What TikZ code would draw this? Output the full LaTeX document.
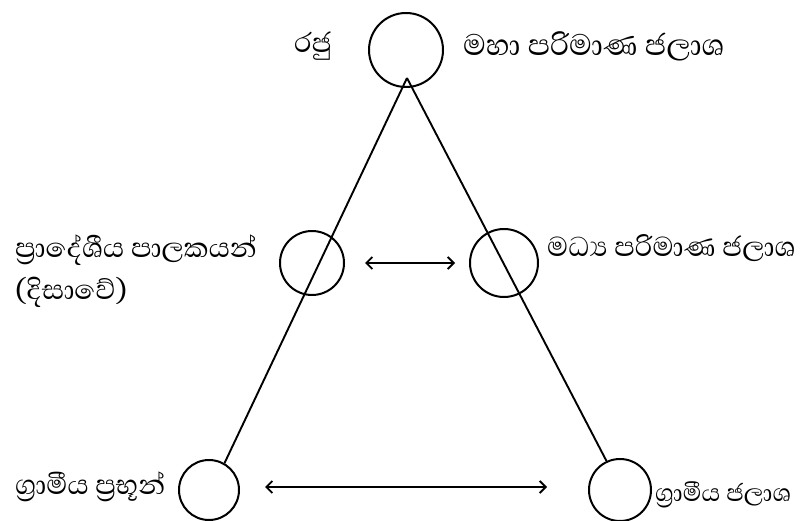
\documentclass[tikz,border=0pt]{standalone}
\usepackage{fontspec}
\newfontfamily\sinhala[Script=Sinhala]{Abhaya Libre}
\usetikzlibrary{arrows.meta}
\begin{document}
\begin{tikzpicture}[x=1pt,y=-1pt,
  ring/.style={draw,circle,line width=2pt,inner sep=0pt},
  lbl/.style={font=\sinhala\fontsize{35}{40}\selectfont,inner sep=0pt},
  link/.style={line width=1.9pt},
  both/.style={line width=1.9pt,{Straight Barb[length=6pt,width=12pt,line width=1.9pt]}-{Straight Barb[length=6pt,width=12pt,line width=1.9pt]}}]
\useasboundingbox (0,0) rectangle (806,521);
\node[ring,minimum size=74pt] (top) at (406,50) {};
\node[ring,minimum size=64pt] (ml) at (312,263) {};
\node[ring,minimum size=68pt] (mr) at (504,263) {};
\node[ring,minimum size=60pt] (bl) at (209,490) {};
\node[ring,minimum size=62pt] (br) at (620,490) {};
\coordinate (apex) at (407,78);
\draw[link] (apex) -- (bl.60);
\draw[link] (apex) -- (br.115);
\draw[both] (365,263) coordinate (a1) -- (455,263) coordinate (a2);
\draw[both] (265,487) coordinate (b1) -- (547,487) coordinate (b2);
\node[lbl,anchor=west] (t1) at (294,46) {රජු};
\node[lbl,anchor=west,font=\sinhala\fontsize{38}{42}\selectfont] (t2) at (463,46) {මහා පරිමාණ ජලාශ};
\node[lbl,anchor=west] (t3) at (15,250) {ප්‍රාදේශීය පාලකයන්};
\node[lbl,anchor=west] (t4) at (15,292) {(දිසාවේ)};
\node[lbl,anchor=west] (t5) at (547,248) {මධ්‍ය පරිමාණ ජලාශ};
\node[lbl,anchor=west] (t6) at (15,487) {ග්‍රාමීය ප්‍රභූන්};
\node[lbl,anchor=west,font=\sinhala\fontsize{31}{35}\selectfont] (t7) at (655,495) {ග්‍රාමීය ජලාශ};
\end{tikzpicture}
\end{document}
